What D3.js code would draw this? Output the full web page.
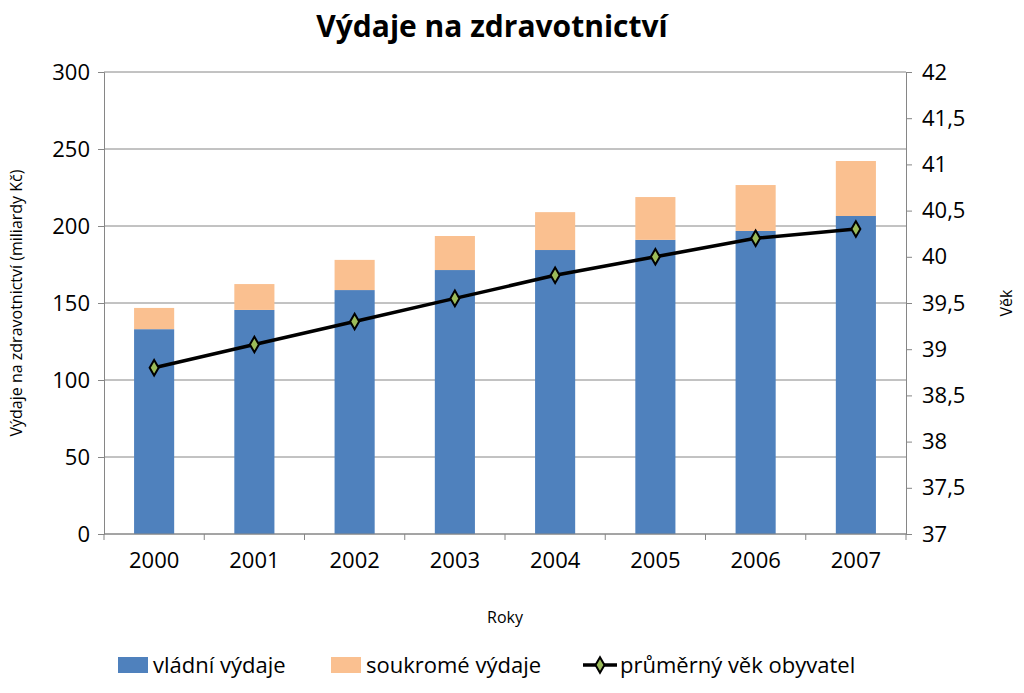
<!DOCTYPE html>
<html><head><meta charset="utf-8">
<script src="https://cdn.jsdelivr.net/npm/d3@7"></script>
<style>body{margin:0;background:#fff;font-family:"Open Sans","Liberation Sans",sans-serif;}</style>
</head><body><svg id="c" width="1024" height="693"></svg>
<script>
// data
var years = ["2000","2001","2002","2003","2004","2005","2006","2007"];
var govt = [133, 145.5, 158.4, 171.4, 184.4, 191, 196.8, 206.5];
var priv = [13.8, 16.8, 19.6, 22.1, 24.6, 27.8, 29.8, 35.7];
var age = [38.8, 39.05, 39.3, 39.55, 39.8, 40.0, 40.2, 40.3];
var leftTicks = [0, 50, 100, 150, 200, 250, 300];
var rightTicks = [37, 37.5, 38, 38.5, 39, 39.5, 40, 40.5, 41, 41.5, 42];

var svg = d3.select("#c");
var L = 104, R = 906, T = 72, B = 534;
var x = d3.scaleBand().domain(years).range([L, R]).paddingInner(0.6).paddingOuter(0.3);
var y = d3.scaleLinear().domain([0, 300]).range([B, T]);
var y2 = d3.scaleLinear().domain([37, 42]).range([B, T]);
var fmt = function (v) { return String(v).replace(".", ","); };

// gridlines
svg.append("g").selectAll("line").data(leftTicks).join("line")
    .attr("x1", L).attr("x2", R).attr("y1", d => y(d)).attr("y2", d => y(d))
    .attr("stroke", "#868686").attr("stroke-width", 1);

// bars
var stack = years.map((d, i) => ({year: d, g: govt[i], p: priv[i]}));
svg.append("g").selectAll("rect").data(stack).join("rect")
    .attr("x", d => x(d.year)).attr("width", x.bandwidth())
    .attr("y", d => y(d.g)).attr("height", d => B - y(d.g)).attr("fill", "#4F81BD");
svg.append("g").selectAll("rect").data(stack).join("rect")
    .attr("x", d => x(d.year)).attr("width", x.bandwidth())
    .attr("y", d => y(d.g + d.p)).attr("height", d => y(d.g) - y(d.g + d.p)).attr("fill", "#FAC090");

// axes
var ax = svg.append("g").attr("transform", "translate(" + L + ",0)")
    .call(d3.axisLeft(y).tickValues(leftTicks).tickSize(6).tickPadding(8));
var ax2 = svg.append("g").attr("transform", "translate(" + R + ",0)")
    .call(d3.axisRight(y2).tickValues(rightTicks).tickFormat(fmt).tickSize(6).tickPadding(10));
var xb = d3.scalePoint().domain(years).range([L, R]);
var ax3 = svg.append("g").attr("transform", "translate(0," + B + ")")
    .call(d3.axisBottom(x).tickSize(0).tickPadding(18));
// category separators on x axis
svg.append("g").selectAll("line").data(d3.range(9)).join("line")
    .attr("x1", i => L + i * (R - L) / 8).attr("x2", i => L + i * (R - L) / 8)
    .attr("y1", B).attr("y2", B + 6).attr("stroke", "#868686");
[ax, ax2, ax3].forEach(function (g) {
    g.selectAll("path,line").attr("stroke", "#868686");
    g.selectAll("text").attr("font-size", 22).attr("fill", "#000")
        .attr("font-family", "'Open Sans','Liberation Sans',sans-serif");
});
ax3.select(".domain").attr("d", "M" + L + ",0H" + R);

// age line
var line = d3.line().x((d, i) => x(years[i]) + x.bandwidth() / 2).y(d => y2(d));
svg.append("path").datum(age).attr("d", line).attr("fill", "none")
    .attr("stroke", "#000").attr("stroke-width", 3.5);
var diamond = d3.symbol().type(d3.symbolDiamond).size(70);
svg.append("g").selectAll("path").data(age).join("path")
    .attr("d", diamond)
    .attr("transform", (d, i) => "translate(" + (x(years[i]) + x.bandwidth() / 2) + "," + y2(d) + ")")
    .attr("fill", "#9BBB59").attr("stroke", "#000").attr("stroke-width", 2);

// titles
svg.append("text").attr("x", 492).attr("y", 37).attr("text-anchor", "middle")
    .attr("font-size", 30).attr("font-weight", "bold").text("Výdaje na zdravotnictví");
svg.append("text").attr("transform", "translate(22,303) rotate(-90)").attr("text-anchor", "middle")
    .attr("font-size", 16).text("Výdaje na zdravotnictví (miliardy  Kč)");
svg.append("text").attr("transform", "translate(1012,303) rotate(-90)").attr("text-anchor", "middle")
    .attr("font-size", 16).text("Věk");
svg.append("text").attr("x", 505).attr("y", 623).attr("text-anchor", "middle")
    .attr("font-size", 16).text("Roky");

// legend
var lg = svg.append("g").attr("font-size", 22);
lg.append("rect").attr("x", 118).attr("y", 657).attr("width", 30).attr("height", 16).attr("fill", "#4F81BD");
lg.append("text").attr("x", 153).attr("y", 673).text("vládní výdaje");
lg.append("rect").attr("x", 331).attr("y", 657).attr("width", 30).attr("height", 16).attr("fill", "#FAC090");
lg.append("text").attr("x", 366).attr("y", 673).text("soukromé výdaje");
lg.append("line").attr("x1", 583).attr("x2", 617).attr("y1", 665).attr("y2", 665).attr("stroke", "#000").attr("stroke-width", 3.5);
lg.append("path").attr("d", diamond).attr("transform", "translate(600,665)")
    .attr("fill", "#9BBB59").attr("stroke", "#000").attr("stroke-width", 2);
lg.append("text").attr("x", 620).attr("y", 673).text("průměrný věk obyvatel");
</script></body></html>
